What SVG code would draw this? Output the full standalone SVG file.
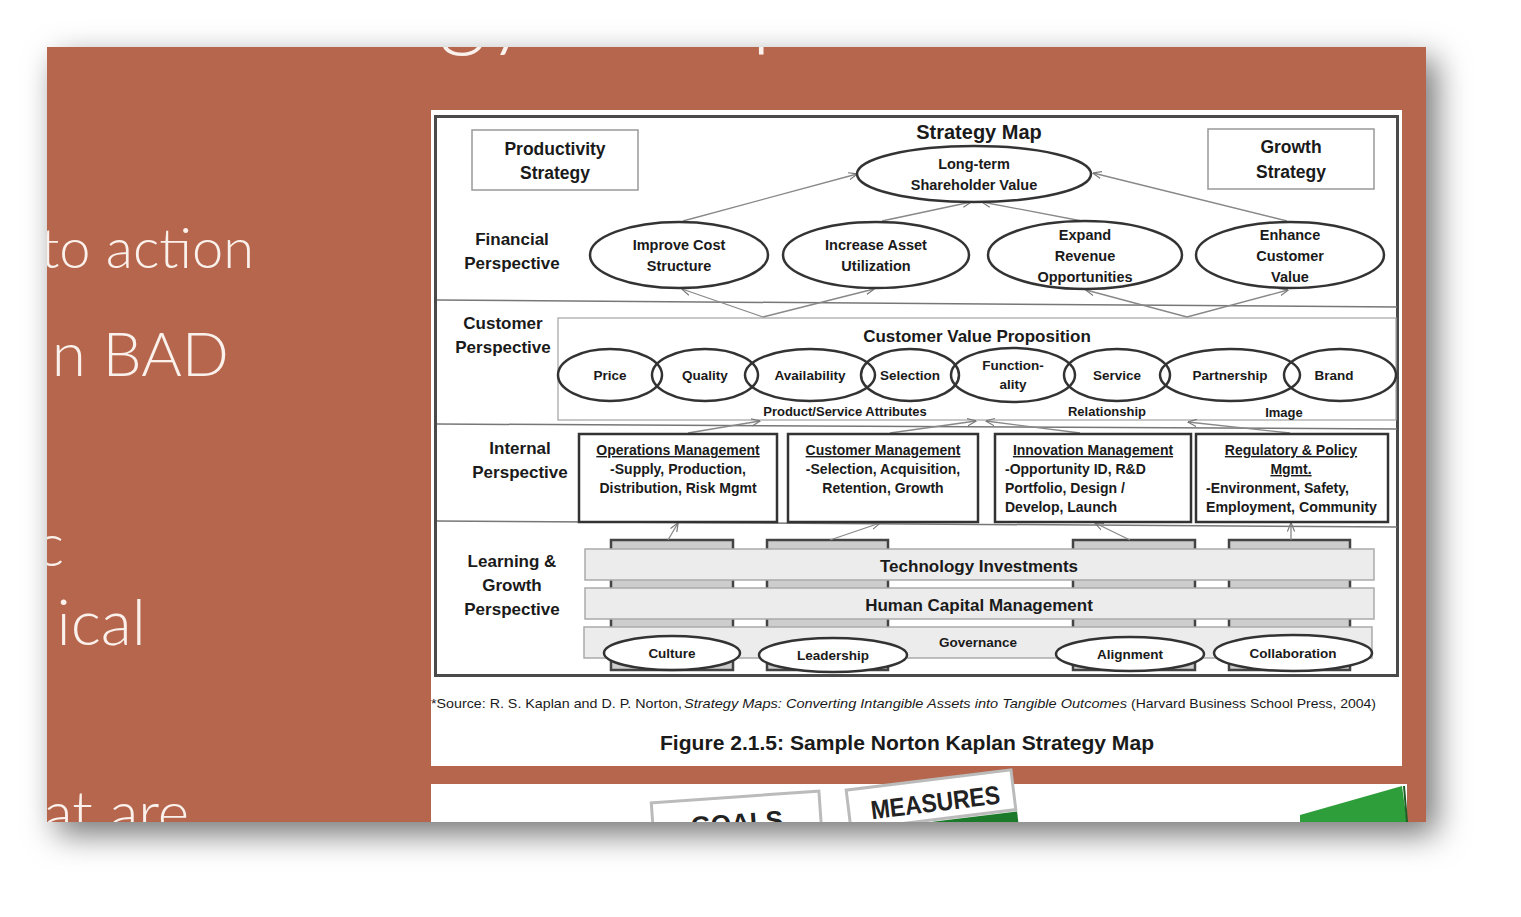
<svg xmlns="http://www.w3.org/2000/svg" width="1521" height="917" viewBox="0 0 1521 917">
<defs>
  <filter id="shadow" x="-10%" y="-10%" width="125%" height="130%">
    <feDropShadow dx="10" dy="12" stdDeviation="16" flood-color="#000" flood-opacity="0.55"/>
  </filter>
  <clipPath id="slideClip"><rect x="47" y="47" width="1379" height="775"/></clipPath>
  <marker id="ah" viewBox="0 0 10 10" refX="9.5" refY="5" markerWidth="9" markerHeight="9" orient="auto" markerUnits="userSpaceOnUse">
    <path d="M0,1 L10,5 L0,9" fill="none" stroke="#777" stroke-width="1.3"/>
  </marker>
  <style>
    .b { font-family: "Liberation Sans", Arial, sans-serif; font-weight: bold; fill: #1a1a1a; text-anchor: middle; }
    .l { text-anchor: start; }
    .r { font-family: "Liberation Sans", Arial, sans-serif; fill: #1a1a1a; }
    .slide { font-family: Lato, "Open Sans", sans-serif; font-weight: 300; fill: #fbf1ec; text-anchor: end; }
    .ell { fill: none; stroke: #333; stroke-width: 2.5; }
    .ellw { fill: #fff; stroke: #333; stroke-width: 2.5; }
    .box { fill: #fff; stroke: #333; stroke-width: 2.5; }
    .sbox { fill: #fff; stroke: #999; stroke-width: 1.5; }
    .sep { stroke: #777; stroke-width: 1.5; fill: none; }
    .conn { stroke: #888; stroke-width: 1.3; fill: none; marker-end: url(#ah); }
    .bar { fill: #ececec; stroke: #aaa; stroke-width: 1.5; }
    .pillar { fill: #cdcdcd; stroke: #444; stroke-width: 2.5; }
    .u { text-decoration: underline; }
    .bt { font-size: 14px; }
  </style>
</defs>

<rect x="0" y="0" width="1521" height="917" fill="#ffffff"/>

<!-- slide -->
<g id="slide">
  <rect x="47" y="47" width="1379" height="775" fill="#b5664d" filter="url(#shadow)"/>
  <g clip-path="url(#slideClip)">
    <text class="slide" x="534" y="38" font-size="94">Strategy</text>
    <text class="slide" x="803" y="38" font-size="94">Map</text>
    <text class="slide" x="254" y="268" font-size="56">to action</text>
    <text class="slide" x="229" y="376" font-size="62">n BAD</text>
    <text class="slide" x="64" y="566" font-size="60">c</text>
    <text class="slide" x="146" y="645" font-size="64">ical</text>
    <text class="slide" x="189" y="834" font-size="60">at are</text>
  </g>
</g>

<!-- figure panel -->
<rect x="431" y="110" width="971" height="656" fill="#ffffff"/>
<rect x="435.5" y="116.5" width="962" height="559" fill="none" stroke="#4a4a4a" stroke-width="3"/>

<!-- section separators -->
<g id="separators">
  <line class="sep" x1="437" y1="300" x2="1397" y2="307"/>
  <line class="sep" x1="437" y1="424" x2="1397" y2="429"/>
  <line class="sep" x1="437" y1="521" x2="1397" y2="527"/>
  <rect x="558" y="318" width="838" height="102" fill="none" stroke="#aaa" stroke-width="1.3"/>
</g>

<!-- learning pillars (behind bars) -->
<g id="pillars">
  <rect class="pillar" x="611" y="540" width="122" height="130"/>
  <rect class="pillar" x="767" y="540" width="121" height="130"/>
  <rect class="pillar" x="1073" y="540" width="122" height="130"/>
  <rect class="pillar" x="1229" y="540" width="121" height="130"/>
</g>

<!-- connectors -->
<g id="connectors">
  <line class="conn" x1="683" y1="221" x2="857" y2="174"/>
  <line class="conn" x1="882" y1="221" x2="971" y2="202"/>
  <line class="conn" x1="1082" y1="221" x2="982" y2="202"/>
  <line class="conn" x1="1287" y1="221" x2="1093" y2="173"/>
  <line class="conn" x1="763" y1="317" x2="682" y2="289"/>
  <line class="conn" x1="763" y1="317" x2="874" y2="289"/>
  <line class="conn" x1="1187" y1="317" x2="1086" y2="290"/>
  <line class="conn" x1="1187" y1="317" x2="1288" y2="290"/>
  <line class="conn" x1="688" y1="433" x2="760" y2="421"/>
  <line class="conn" x1="890" y1="433" x2="976" y2="421"/>
  <line class="conn" x1="1080" y1="433" x2="986" y2="421"/>
  <line class="conn" x1="1290" y1="433" x2="1188" y2="422"/>
  <line class="conn" x1="668" y1="540" x2="678" y2="523"/>
  <line class="conn" x1="830" y1="540" x2="880" y2="523"/>
  <line class="conn" x1="1130" y1="540" x2="1095" y2="523"/>
  <line class="conn" x1="1291" y1="540" x2="1291" y2="523"/>
</g>

<text class="b" x="979" y="139" font-size="20">Strategy Map</text>

<!-- top boxes -->
<g id="productivity-strategy">
  <rect class="sbox" x="472" y="130" width="166" height="60"/>
  <text class="b" x="555" y="155" font-size="17.5">Productivity</text>
  <text class="b" x="555" y="179" font-size="17.5">Strategy</text>
</g>
<g id="growth-strategy">
  <rect class="sbox" x="1208" y="129" width="166" height="60"/>
  <text class="b" x="1291" y="153" font-size="17.5">Growth</text>
  <text class="b" x="1291" y="178" font-size="17.5">Strategy</text>
</g>
<g id="shareholder-value">
  <ellipse class="ellw" cx="974" cy="174" rx="117" ry="28"/>
  <text class="b" x="974" y="169" font-size="14.5">Long-term</text>
  <text class="b" x="974" y="190" font-size="14.5">Shareholder Value</text>
</g>

<!-- financial -->
<g id="financial-label">
  <text class="b" x="512" y="245" font-size="17">Financial</text>
  <text class="b" x="512" y="269" font-size="17">Perspective</text>
</g>
<g id="improve-cost">
  <ellipse class="ellw" cx="679" cy="255" rx="89" ry="33"/>
  <text class="b" x="679" y="250" font-size="14.5">Improve Cost</text>
  <text class="b" x="679" y="271" font-size="14.5">Structure</text>
</g>
<g id="increase-asset">
  <ellipse class="ellw" cx="876" cy="255" rx="93" ry="33"/>
  <text class="b" x="876" y="250" font-size="14.5">Increase Asset</text>
  <text class="b" x="876" y="271" font-size="14.5">Utilization</text>
</g>
<g id="expand-revenue">
  <ellipse class="ellw" cx="1085" cy="255" rx="97" ry="34"/>
  <text class="b" x="1085" y="240" font-size="14.5">Expand</text>
  <text class="b" x="1085" y="261" font-size="14.5">Revenue</text>
  <text class="b" x="1085" y="282" font-size="14.5">Opportunities</text>
</g>
<g id="enhance-customer">
  <ellipse class="ellw" cx="1290" cy="255" rx="94" ry="33"/>
  <text class="b" x="1290" y="240" font-size="14.5">Enhance</text>
  <text class="b" x="1290" y="261" font-size="14.5">Customer</text>
  <text class="b" x="1290" y="282" font-size="14.5">Value</text>
</g>

<!-- customer -->
<g id="customer-label">
  <text class="b" x="503" y="329" font-size="17">Customer</text>
  <text class="b" x="503" y="353" font-size="17">Perspective</text>
</g>
<text class="b" x="977" y="342" font-size="17">Customer Value Proposition</text>
<g id="price"><ellipse class="ell" cx="610" cy="375" rx="52" ry="26"/><text class="b" x="610" y="380" font-size="13.5">Price</text></g>
<g id="quality"><ellipse class="ell" cx="705" cy="375" rx="53" ry="26"/><text class="b" x="705" y="380" font-size="13.5">Quality</text></g>
<g id="availability"><ellipse class="ell" cx="810" cy="375" rx="65" ry="26"/><text class="b" x="810" y="380" font-size="13.5">Availability</text></g>
<g id="selection"><ellipse class="ell" cx="910" cy="375" rx="49" ry="26"/><text class="b" x="910" y="380" font-size="13.5">Selection</text></g>
<g id="functionality"><ellipse class="ell" cx="1013" cy="375" rx="62" ry="27"/><text class="b" x="1013" y="370" font-size="13.5">Function-</text><text class="b" x="1013" y="389" font-size="13.5">ality</text></g>
<g id="service"><ellipse class="ell" cx="1117" cy="375" rx="53" ry="26"/><text class="b" x="1117" y="380" font-size="13.5">Service</text></g>
<g id="partnership"><ellipse class="ell" cx="1230" cy="375" rx="70" ry="26"/><text class="b" x="1230" y="380" font-size="13.5">Partnership</text></g>
<g id="brand"><ellipse class="ell" cx="1340" cy="375" rx="56" ry="26"/><text class="b" x="1334" y="380" font-size="13.5">Brand</text></g>
<g id="customer-sublabels">
  <text class="b" x="845" y="416" font-size="13">Product/Service Attributes</text>
  <text class="b" x="1107" y="416" font-size="13">Relationship</text>
  <text class="b" x="1284" y="417" font-size="13">Image</text>
</g>

<!-- internal -->
<g id="internal-label">
  <text class="b" x="520" y="454" font-size="17">Internal</text>
  <text class="b" x="520" y="478" font-size="17">Perspective</text>
</g>
<g id="operations-management">
  <rect class="box" x="579" y="434" width="198" height="88"/>
  <text class="b u bt" x="678" y="455">Operations Management</text>
  <text class="b bt" x="678" y="474">-Supply, Production,</text>
  <text class="b bt" x="678" y="493">Distribution, Risk Mgmt</text>
</g>
<g id="customer-management">
  <rect class="box" x="788" y="434" width="190" height="88"/>
  <text class="b u bt" x="883" y="455">Customer Management</text>
  <text class="b bt" x="883" y="474">-Selection, Acquisition,</text>
  <text class="b bt" x="883" y="493">Retention, Growth</text>
</g>
<g id="innovation-management">
  <rect class="box" x="995" y="434" width="196" height="88"/>
  <text class="b u bt" x="1093" y="455">Innovation Management</text>
  <text class="b l bt" x="1005" y="474">-Opportunity ID, R&amp;D</text>
  <text class="b l bt" x="1005" y="493">Portfolio, Design /</text>
  <text class="b l bt" x="1005" y="512">Develop, Launch</text>
</g>
<g id="regulatory-policy">
  <rect class="box" x="1196" y="434" width="192" height="88"/>
  <text class="b u bt" x="1291" y="455">Regulatory &amp; Policy</text>
  <text class="b u bt" x="1291" y="474">Mgmt.</text>
  <text class="b l bt" x="1206" y="493">-Environment, Safety,</text>
  <text class="b l bt" x="1206" y="512" textLength="171" lengthAdjust="spacingAndGlyphs">Employment, Community</text>
</g>

<!-- learning & growth -->
<g id="learning-label">
  <text class="b" x="512" y="567" font-size="17">Learning &amp;</text>
  <text class="b" x="512" y="591" font-size="17">Growth</text>
  <text class="b" x="512" y="615" font-size="17">Perspective</text>
</g>
<g id="technology-investments">
  <rect class="bar" x="585" y="549" width="789" height="31"/>
  <text class="b" x="979" y="572" font-size="17">Technology Investments</text>
</g>
<g id="human-capital">
  <rect class="bar" x="585" y="588" width="789" height="31"/>
  <text class="b" x="979" y="611" font-size="17">Human Capital Management</text>
</g>
<g id="governance">
  <rect class="bar" x="584" y="627" width="788" height="31"/>
  <text class="b" x="978" y="647" font-size="13.5">Governance</text>
</g>
<g id="culture"><ellipse class="ellw" cx="672" cy="653" rx="68" ry="17"/><text class="b" x="672" y="658" font-size="13.5">Culture</text></g>
<g id="leadership"><ellipse class="ellw" cx="833" cy="655" rx="74" ry="17"/><text class="b" x="833" y="660" font-size="13.5">Leadership</text></g>
<g id="alignment"><ellipse class="ellw" cx="1130" cy="654" rx="74" ry="17"/><text class="b" x="1130" y="659" font-size="13.5">Alignment</text></g>
<g id="collaboration"><ellipse class="ellw" cx="1293" cy="653" rx="79" ry="18"/><text class="b" x="1293" y="658" font-size="13.5">Collaboration</text></g>

<!-- source and caption -->
<g id="caption">
  <text class="r" x="431" y="708" font-size="13.5" textLength="251" lengthAdjust="spacingAndGlyphs">*Source: R. S. Kaplan and D. P. Norton,</text>
  <text class="r" x="684" y="708" font-size="13.5" font-style="italic" textLength="443" lengthAdjust="spacingAndGlyphs">Strategy Maps: Converting Intangible Assets into Tangible Outcomes</text>
  <text class="r" x="1131" y="708" font-size="13.5" textLength="245" lengthAdjust="spacingAndGlyphs">(Harvard Business School Press, 2004)</text>
  <text class="b" x="907" y="750" font-size="19.5" textLength="494" lengthAdjust="spacingAndGlyphs">Figure 2.1.5: Sample Norton Kaplan Strategy Map</text>
</g>

<!-- bottom image strip -->
<g id="bottom-strip">
  <rect x="431" y="784" width="976" height="38" fill="#ffffff"/>
  <g clip-path="url(#slideClip)">
    <g transform="rotate(-4 735 810)">
      <rect x="652" y="797" width="168" height="40" fill="#fff" stroke="#bbb" stroke-width="3"/>
      <text x="736" y="832" font-family="Liberation Sans, Arial, sans-serif" font-weight="bold" font-size="26" fill="#222" text-anchor="middle">GOALS</text>
    </g>
    <g transform="rotate(-7 930 800)">
      <rect x="848" y="780" width="166" height="40" fill="#fff" stroke="#bbb" stroke-width="3"/>
      <text x="935" y="812" font-family="Liberation Sans, Arial, sans-serif" font-weight="bold" font-size="26" fill="#222" text-anchor="middle" textLength="130" lengthAdjust="spacingAndGlyphs">MEASURES</text>
      <rect x="930" y="822" width="85" height="14" fill="#1a7a2a"/>
    </g>
    <polygon points="1300,815 1402,786 1407,822 1300,822" fill="#2e9e3a"/>
    <line x1="1404" y1="786" x2="1407" y2="822" stroke="#1d5f25" stroke-width="2"/>
  </g>
</g>
</svg>
